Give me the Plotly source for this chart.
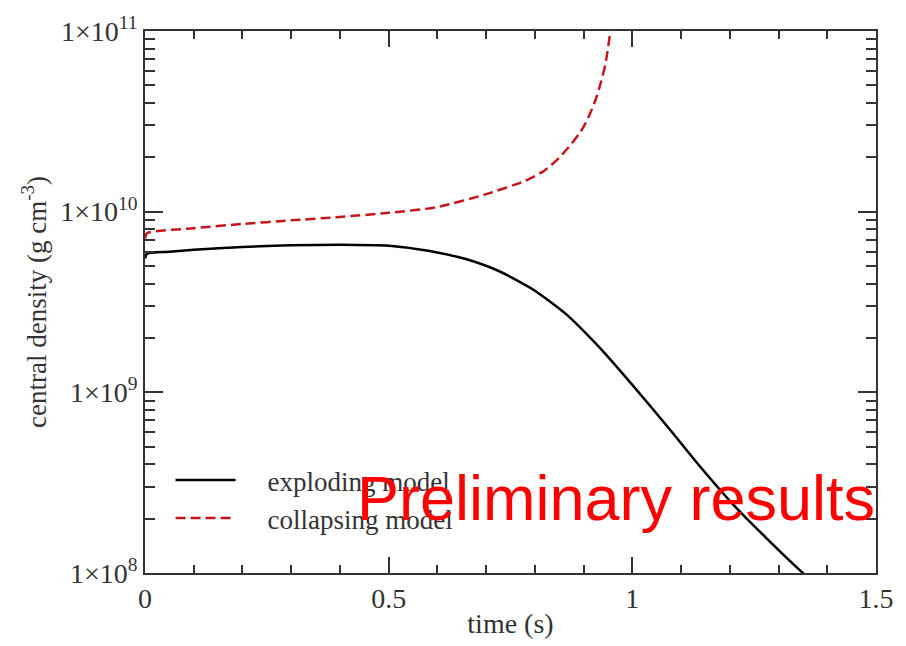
import numpy as np
import plotly.graph_objects as go

# exploding model (black solid)
t_expl = [0.0, 0.004, 0.05, 0.1, 0.2, 0.3, 0.4, 0.5, 0.56, 0.6, 0.66, 0.727, 0.797, 0.864,
          0.931, 1.0, 1.074, 1.142, 1.209, 1.276, 1.35, 1.37]
rho_expl = [5.5e9, 5.85e9, 6.0e9, 6.15e9, 6.38e9, 6.51e9, 6.55e9, 6.47e9, 6.2e9, 5.95e9,
            5.45e9, 4.68e9, 3.70e9, 2.71e9, 1.79e9, 1.1e9, 6.37e8, 3.8e8, 2.36e8,
            1.55e8, 1.0e8, 0.9e8]

# collapsing model (red dashed)
t_coll = [0.0, 0.004, 0.1, 0.2, 0.3, 0.4, 0.5, 0.6, 0.7, 0.78, 0.82, 0.85, 0.875, 0.89,
          0.9, 0.912, 0.925, 0.935, 0.945, 0.955, 0.96]
rho_coll = [7.1e9, 7.6e9, 8.1e9, 8.55e9, 8.95e9, 9.35e9, 9.85e9, 1.06e10, 1.25e10,
            1.48e10, 1.69e10, 1.99e10, 2.37e10, 2.68e10, 2.95e10, 3.43e10, 4.2e10,
            5.13e10, 6.6e10, 1.0e11, 1.3e11]

x_ticks = [0, 0.5, 1, 1.5]
x_ticklabels = ["0", "0.5", "1", "1.5"]
y_ticks = [1e8, 1e9, 1e10, 1e11]
y_ticklabels = ["1×10<sup>8</sup>", "1×10<sup>9</sup>", "1×10<sup>10</sup>", "1×10<sup>11</sup>"]

serif = "Liberation Serif, Times New Roman, serif"
axcol = "#333333"
pad = "\u00a0" * 4

fig = go.Figure()
fig.add_trace(go.Scatter(x=t_expl, y=rho_expl, mode="lines", name=pad + "exploding model",
                         line=dict(color="black", width=2.5, shape="spline", smoothing=0.6)))
fig.add_trace(go.Scatter(x=t_coll, y=rho_coll, mode="lines", name=pad + "collapsing model",
                         line=dict(color="#c4161c", width=2.5, dash="10px,5px",
                                   shape="spline", smoothing=0.6)))

y_minor = [m * 10 ** e for e in range(8, 11) for m in range(2, 10)]
x_minor = [round(0.1 * i, 2) for i in range(16)]

fig.update_xaxes(range=[0, 1.5], tickvals=x_ticks, ticktext=x_ticklabels,
                 ticks="inside", ticklen=16, tickwidth=1.5, tickcolor=axcol,
                 showline=True, linecolor=axcol, linewidth=1.5, mirror="ticks",
                 showgrid=False, zeroline=False,
                 minor=dict(tickvals=x_minor, ticks="inside", ticklen=8, tickwidth=1.5,
                            tickcolor=axcol, showgrid=False),
                 tickfont=dict(family=serif, size=28, color=axcol),
                 title=dict(text="time (s)", font=dict(family=serif, size=28, color=axcol),
                            standoff=0))
fig.update_yaxes(type="log", range=[8, 11], tickvals=y_ticks, ticktext=y_ticklabels,
                 ticks="inside", ticklen=18, tickwidth=1.5, tickcolor=axcol,
                 showline=True, linecolor=axcol, linewidth=1.5, mirror="ticks",
                 showgrid=False, zeroline=False,
                 minor=dict(tickvals=y_minor, ticks="inside", ticklen=10, tickwidth=1.5,
                            tickcolor=axcol, showgrid=False),
                 tickfont=dict(family=serif, size=28, color=axcol),
                 title=dict(text="central density (g cm<sup>-3</sup>)",
                            font=dict(family=serif, size=27, color=axcol), standoff=6))

fig.add_annotation(text="Preliminary results", xref="paper", yref="paper",
                   x=0.645, y=0.138, xanchor="center", yanchor="middle", showarrow=False,
                   font=dict(family="Liberation Sans, Arial, sans-serif", size=63, color="#ff0000"))

fig.update_layout(width=906, height=646, margin=dict(l=145, r=21, t=27, b=64),
                  paper_bgcolor="white", plot_bgcolor="white",
                  legend=dict(x=0.035, y=0.216, xanchor="left", yanchor="top",
                              bgcolor="rgba(0,0,0,0)", itemwidth=60, tracegroupgap=0,
                              font=dict(family=serif, size=27, color=axcol)))

fig.write_html("out.html")
